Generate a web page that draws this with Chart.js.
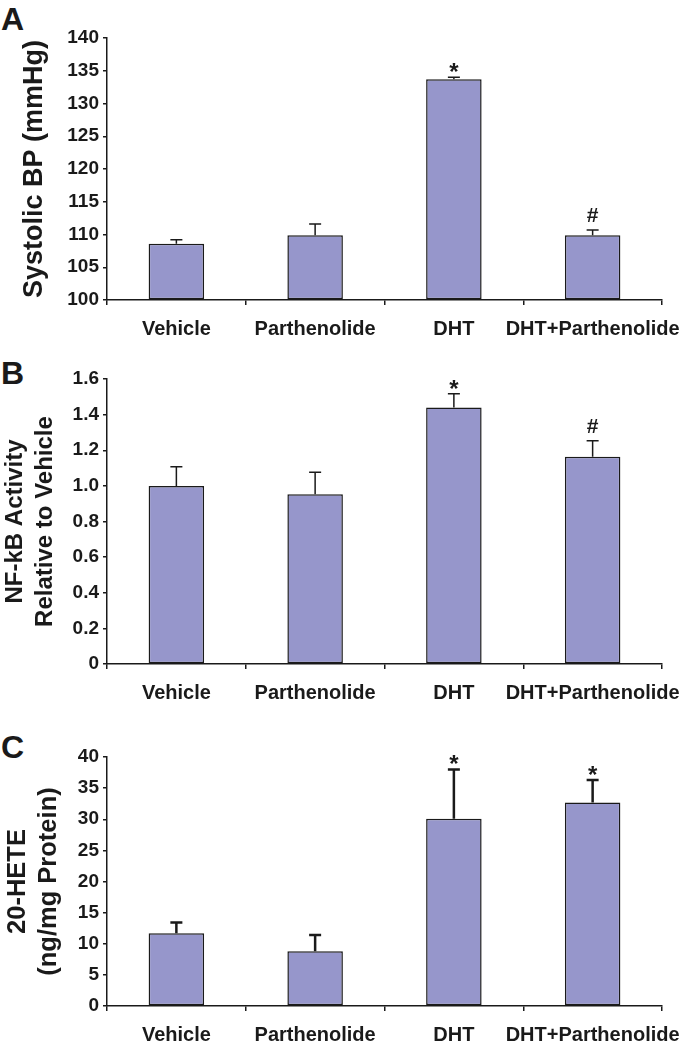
<!DOCTYPE html>
<html>
<head>
<meta charset="utf-8">
<script src="https://cdn.jsdelivr.net/npm/chart.js@4.4.0/dist/chart.umd.min.js"></script>
<style>
    body { margin: 0; background: #fff; }
    #page { position: relative; width: 696px; height: 1050px; overflow: hidden; }
    .panel { position: absolute; left: 0; width: 696px; }
    .letter { position: absolute; left: 1px; font: bold 32px "Liberation Sans", Arial, sans-serif; line-height: 32px; color: #1a1a1a; }
</style>
</head>
<body>
<div id="page">
    <div class="letter" style="top:3px">A</div>
    <div class="letter" style="top:357px">B</div>
    <div class="letter" style="top:731px">C</div>
    <div class="panel" style="top:0px;height:345px"><canvas id="chartA"></canvas></div>
    <div class="panel" style="top:340px;height:370px"><canvas id="chartB"></canvas></div>
    <div class="panel" style="top:710px;height:340px"><canvas id="chartC"></canvas></div>
</div>
<script>
// --- dados ---
const groups = ['Vehicle', 'Parthenolide', 'DHT', 'DHT+Parthenolide'];

const bpMean = [108.6, 109.9, 133.7, 109.9];
const bpErr = [0.6, 1.7, 0.3, 0.8];
const bpMarks = ['', '', '*', '#'];
const bpTicks = ['100', '105', '110', '115', '120', '125', '130', '135', '140'];

const nfkbMean = [1.0, 0.953, 1.44, 1.163];
const nfkbErr = [0.107, 0.123, 0.077, 0.091];
const nfkbMarks = ['', '', '*', '#'];
const nfkbTicks = ['0', '0.2', '0.4', '0.6', '0.8', '1.0', '1.2', '1.4', '1.6'];

const heteMean = [11.7, 8.8, 30.1, 32.7];
const heteErr = [1.7, 2.6, 7.9, 3.6];
const heteMarks = ['', '', '*', '*'];
const heteTicks = ['0', '5', '10', '15', '20', '25', '30', '35', '40'];

const FONT = '"Liberation Sans", Arial, sans-serif';
const INK = '#1a1a1a';
const BAR = '#9696cb';

// barras de erro (só para cima) e marcas de significância
const errorBarPlugin = {
    id: 'errorBars',
    afterDatasetsDraw(chart, args, opts) {
        const ctx = chart.ctx;
        const meta = chart.getDatasetMeta(0);
        const y = chart.scales.y;
        meta.data.forEach((bar, i) => {
            const top = y.getPixelForValue(opts.mean[i]);
            const tip = y.getPixelForValue(opts.mean[i] + opts.err[i]);
            ctx.save();
            ctx.strokeStyle = INK;
            ctx.lineWidth = opts.lineWidth;
            ctx.beginPath();
            ctx.moveTo(bar.x, top);
            ctx.lineTo(bar.x, tip);
            ctx.moveTo(bar.x - 6, tip);
            ctx.lineTo(bar.x + 6, tip);
            ctx.stroke();
            const mark = opts.marks[i];
            if (mark) {
                ctx.fillStyle = INK;
                ctx.textAlign = 'center';
                ctx.textBaseline = 'alphabetic';
                if (mark === '*') {
                    ctx.font = 'bold 24px ' + FONT;
                    ctx.fillText(mark, bar.x, tip + 3);
                } else {
                    ctx.font = 'bold 21px ' + FONT;
                    ctx.fillText(mark, bar.x, tip - 8);
                }
            }
            ctx.restore();
        });
    }
};

function makePanel(id, cfg) {
    const canvas = document.getElementById(id);
    return new Chart(canvas, {
        type: 'bar',
        data: {
            labels: groups,
            datasets: [{
                data: cfg.mean,
                base: cfg.min,
                backgroundColor: BAR,
                borderColor: INK,
                borderWidth: 1.5,
                borderSkipped: false,
                categoryPercentage: 1,
                barPercentage: 0.4
            }]
        },
        options: {
            responsive: true,
            maintainAspectRatio: false,
            animation: false,
            layout: { padding: { top: cfg.padTop, right: 34, left: 0, bottom: 0 } },
            plugins: {
                legend: { display: false },
                tooltip: { enabled: false },
                errorBars: { mean: cfg.mean, err: cfg.err, marks: cfg.marks, lineWidth: cfg.errWidth }
            },
            scales: {
                x: {
                    afterFit: (s) => { s.height = cfg.xHeight; },
                    border: { display: true, color: INK, width: 1.5 },
                    grid: { display: true, offset: true, drawOnChartArea: false, drawTicks: true, tickLength: 5, color: INK, lineWidth: 1.5 },
                    ticks: { color: INK, padding: 12, maxRotation: 0, autoSkip: false, font: { family: FONT, size: 20, weight: 'bold' } }
                },
                y: {
                    min: cfg.min,
                    max: cfg.max,
                    afterFit: (s) => { s.width = 107; },
                    border: { display: true, color: INK, width: 1.5 },
                    grid: { display: true, drawOnChartArea: false, drawTicks: true, tickLength: 4, color: INK, lineWidth: 1.5 },
                    ticks: {
                        stepSize: cfg.step,
                        padding: 4,
                        color: INK,
                        font: { family: FONT, size: 19, weight: 'bold' },
                        callback: (v, i) => cfg.tickLabels[i]
                    },
                    title: {
                        display: true,
                        text: cfg.title,
                        color: INK,
                        padding: { top: cfg.titlePad, bottom: 0 },
                        font: { family: FONT, size: cfg.titleSize, weight: 'bold', lineHeight: cfg.titleLine }
                    }
                }
            }
        },
        plugins: [errorBarPlugin]
    });
}

makePanel('chartA', {
    mean: bpMean, err: bpErr, marks: bpMarks, tickLabels: bpTicks,
    min: 100, max: 140, step: 5, padTop: 38, xHeight: 45,
    title: 'Systolic BP (mmHg)', titlePad: 18, titleSize: 27, titleLine: 1.2, errWidth: 1.5
});

makePanel('chartB', {
    mean: nfkbMean, err: nfkbErr, marks: nfkbMarks, tickLabels: nfkbTicks,
    min: 0, max: 1.6, step: 0.2, padTop: 39, xHeight: 46,
    title: ['NF-kB Activity', 'Relative to Vehicle'], titlePad: 0, titleSize: 24, titleLine: 1.25, errWidth: 1.5
});

makePanel('chartC', {
    mean: heteMean, err: heteErr, marks: heteMarks, tickLabels: heteTicks,
    min: 0, max: 40, step: 5, padTop: 47, xHeight: 44,
    title: ['20-HETE', '(ng/mg Protein)'], titlePad: 3, titleSize: 25.5, titleLine: 1.2, errWidth: 2.5
});
</script>
</body>
</html>
